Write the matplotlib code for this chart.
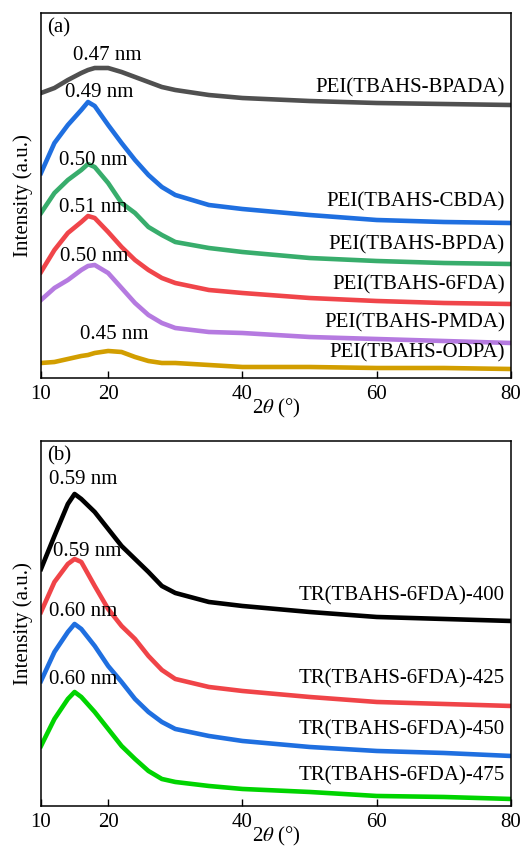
import matplotlib
matplotlib.use("Agg")
import matplotlib.pyplot as plt

plt.rcParams['font.family'] = ['Liberation Serif', 'DejaVu Serif']
plt.rcParams['mathtext.fontset'] = 'stix'

# panel (a): offset-stacked XRD patterns of the PEI films
theta_a = [10, 12, 14, 16, 17, 18, 20, 22, 24, 26, 28, 30, 35, 40, 50, 60, 70, 80]
bpada = [285, 290, 298, 305, 308, 310, 310, 306, 301, 296, 291, 288, 283, 280, 277, 275, 274, 273]
cbda = [205, 235, 253, 268, 276, 272, 253, 235, 218, 203, 191, 183, 173, 169, 163, 158, 156, 155]
bpda = [165, 185, 198, 208, 214, 211, 195, 175, 165, 151, 143, 136, 130, 126, 120, 117, 115, 114]
fda6 = [106, 128, 145, 156, 162, 160, 146, 131, 118, 108, 100, 95, 88, 85, 80, 77, 75, 74]
pmda = [78, 90, 98, 108, 112, 113, 105, 90, 75, 63, 55, 50, 46, 45, 41, 39, 37, 35]
odpa = [15, 16, 19, 22, 23, 25, 27, 26, 21, 17, 15, 15, 13, 11, 11, 10, 10, 9]

names_a = ["PEI(TBAHS-BPADA)", "PEI(TBAHS-CBDA)", "PEI(TBAHS-BPDA)",
           "PEI(TBAHS-6FDA)", "PEI(TBAHS-PMDA)", "PEI(TBAHS-ODPA)"]
colors_a = ["#505050", "#1f6fe0", "#38ad6c", "#f0454a", "#b57ae0", "#d29e00"]
dspace_a = ["0.47 nm", "0.49 nm", "0.50 nm", "0.51 nm", "0.50 nm", "0.45 nm"]

# panel (b): thermally rearranged films
theta_b = [10, 12, 14, 15, 16, 18, 20, 22, 24, 26, 28, 30, 35, 40, 50, 60, 70, 80]
tr400 = [237, 270, 302, 312, 307, 294, 277, 260, 247, 234, 220, 213, 204, 200, 194, 189, 187, 185]
tr425 = [194, 224, 242, 247, 244, 220, 197, 180, 167, 150, 136, 127, 119, 115, 109, 104, 102, 100]
tr450 = [125, 154, 174, 182, 177, 160, 140, 124, 107, 94, 84, 77, 70, 65, 59, 55, 53, 50]
tr475 = [60, 87, 107, 114, 109, 94, 77, 60, 47, 35, 27, 24, 20, 17, 14, 10, 9, 7]

names_b = ["TR(TBAHS-6FDA)-400", "TR(TBAHS-6FDA)-425",
           "TR(TBAHS-6FDA)-450", "TR(TBAHS-6FDA)-475"]
colors_b = ["#000000", "#f04448", "#1f6fe0", "#00d400"]
dspace_b = ["0.59 nm", "0.59 nm", "0.60 nm", "0.60 nm"]

# label positions (data units)
peak_xy_a = [(19.9, 323), (18.6, 286), (17.8, 218), (17.7, 170), (17.9, 121), (20.9, 43)]
name_y_a = [290, 176, 133, 93, 55, 25]
peak_xy_b = [(16.3, 326), (16.9, 254), (16.3, 194), (16.3, 126)]
name_y_b = [210, 127, 76, 30]

fs = 15
fig = plt.figure(figsize=(5.27, 8.5), dpi=100)
ax1 = fig.add_axes([0.0778, 0.5553, 0.8918, 0.4294])
ax2 = fig.add_axes([0.0778, 0.0518, 0.8918, 0.4294])


def style(ax, tag):
    ax.set_xlim(10, 80)
    ax.set_ylim(0, 366)
    ax.set_xticks([10, 20, 40, 60, 80])
    ax.set_yticks([])
    ax.tick_params(axis='x', direction='in', length=5, width=1, labelsize=fs, pad=5)
    for s in ax.spines.values():
        s.set_linewidth(1.1)
    ax.set_xlabel(r"2$\theta$ (°)", fontsize=fs, labelpad=-5)
    ax.set_ylabel("Intensity (a.u.)", fontsize=fs, labelpad=6)
    ax.text(10.9, 350, tag, fontsize=fs, ha='left', va='center')


series_a = [bpada, cbda, bpda, fda6, pmda, odpa]
for ys, c, n, d, pxy, ny in zip(series_a, colors_a, names_a, dspace_a, peak_xy_a, name_y_a):
    ax1.plot(theta_a, ys, color=c, lw=3.3, solid_joinstyle='round')
    ax1.text(pxy[0], pxy[1], d, fontsize=fs, ha='center', va='center')
    ax1.text(79.1, ny, n, fontsize=fs, ha='right', va='center')
style(ax1, "(a)")
ax1.set_ylim(0, 365)

series_b = [tr400, tr425, tr450, tr475]
for ys, c, n, d, pxy, ny in zip(series_b, colors_b, names_b, dspace_b, peak_xy_b, name_y_b):
    ax2.plot(theta_b, ys, color=c, lw=3.3, solid_joinstyle='round')
    ax2.text(pxy[0], pxy[1], d, fontsize=fs, ha='center', va='center')
    ax2.text(79.1, ny, n, fontsize=fs, ha='right', va='center')
style(ax2, "(b)")
ax2.set_ylim(0, 365)

fig.savefig("out.png", dpi=100)
